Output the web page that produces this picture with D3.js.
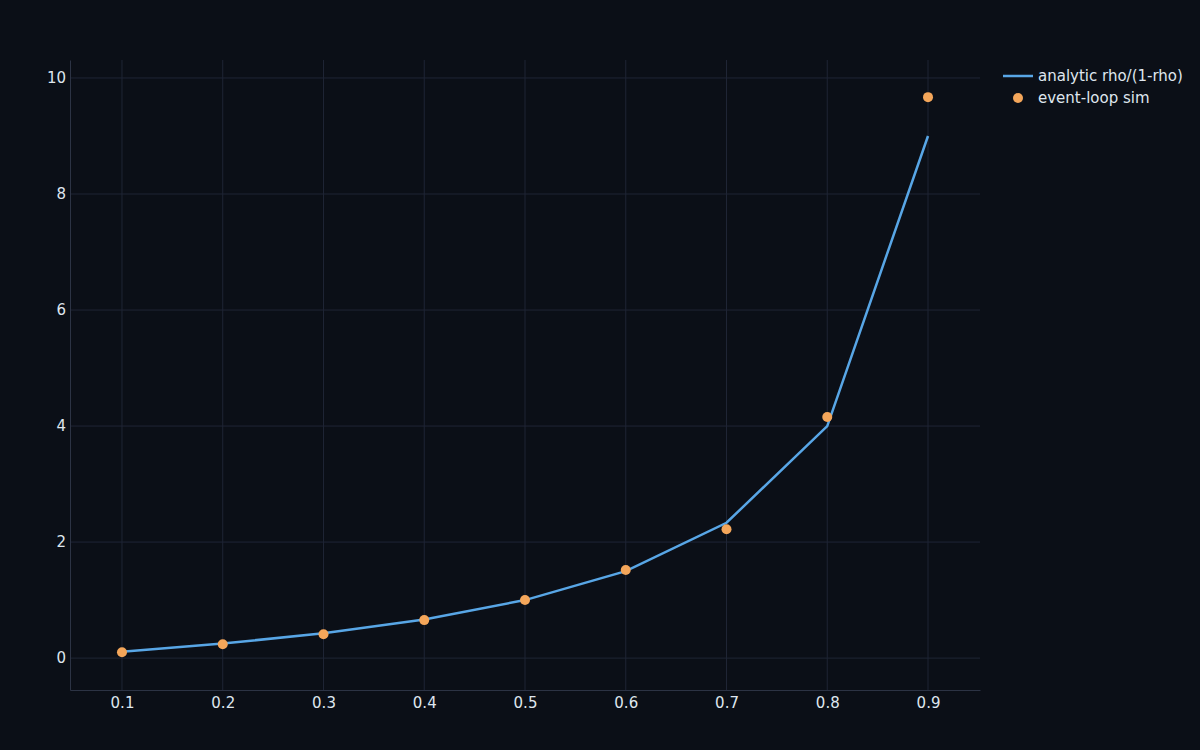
<!DOCTYPE html>
<html>
<head>
<meta charset="utf-8">
<script src="https://cdn.jsdelivr.net/npm/d3@7"></script>
<style>
  html, body { margin: 0; padding: 0; background: #0b0f17; }
  svg { display: block; font-family: "DejaVu Sans", sans-serif; }
  .tick text { fill: #dfe6ee; font-size: 15px; font-family: "DejaVu Sans", sans-serif; }
</style>
</head>
<body>
<svg id="chart"></svg>
<script>
const rho = [0.1, 0.2, 0.3, 0.4, 0.5, 0.6, 0.7, 0.8, 0.9];
const analytic = [0.111, 0.25, 0.429, 0.667, 1.0, 1.5, 2.333, 4.0, 9.0];
const simulated = [0.10, 0.24, 0.41, 0.655, 1.0, 1.52, 2.22, 4.155, 9.67];
const xTicks = [0.1, 0.2, 0.3, 0.4, 0.5, 0.6, 0.7, 0.8, 0.9];
const yTicks = [0, 2, 4, 6, 8, 10];
const seriesNames = ['analytic rho/(1-rho)', 'event-loop sim'];

const width = 1200;
const height = 750;
const margin = { top: 60, right: 220, bottom: 60, left: 70 };
const lineColor = '#58a6e6';
const dotColor = '#f4a65a';
const gridColor = '#1f2535';

const svg = d3.select('#chart')
  .attr('width', width)
  .attr('height', height);

svg.append('rect')
  .attr('width', width)
  .attr('height', height)
  .attr('fill', '#0b0f17');

const x = d3.scaleLinear()
  .domain([0.0484, 0.9516])
  .range([margin.left, width - margin.right]);
const y = d3.scaleLinear()
  .domain([-0.55, 10.31])
  .range([height - margin.bottom, margin.top]);

// grid
svg.append('g')
  .selectAll('line')
  .data(xTicks)
  .enter().append('line')
    .attr('x1', d => x(d)).attr('x2', d => x(d))
    .attr('y1', margin.top).attr('y2', height - margin.bottom)
    .attr('stroke', gridColor);
svg.append('g')
  .selectAll('line')
  .data(yTicks)
  .enter().append('line')
    .attr('x1', margin.left).attr('x2', width - margin.right)
    .attr('y1', d => y(d)).attr('y2', d => y(d))
    .attr('stroke', gridColor);

// axes
const xAxis = d3.axisBottom(x)
  .tickValues(xTicks)
  .tickSize(0)
  .tickPadding(7)
  .tickFormat(d3.format('.1f'));
const yAxis = d3.axisLeft(y)
  .tickValues(yTicks)
  .tickSize(0)
  .tickPadding(4);

const gx = svg.append('g')
  .attr('transform', `translate(0, ${height - margin.bottom})`)
  .call(xAxis);
gx.select('.domain').attr('stroke', '#2c3344');

const gy = svg.append('g')
  .attr('transform', `translate(${margin.left}, 0)`)
  .call(yAxis);
gy.select('.domain').attr('stroke', '#2c3344');
gy.selectAll('.tick text').attr('dy', '0.32em');

// analytic line
const line = d3.line()
  .x((d, i) => x(rho[i]))
  .y(d => y(d));
svg.append('path')
  .datum(analytic)
  .attr('d', line)
  .attr('fill', 'none')
  .attr('stroke', lineColor)
  .attr('stroke-width', 2.5);

// simulated points
svg.append('g')
  .selectAll('circle')
  .data(simulated)
  .enter().append('circle')
    .attr('cx', (d, i) => x(rho[i]))
    .attr('cy', d => y(d))
    .attr('r', 5)
    .attr('fill', dotColor);

// legend
const legend = svg.append('g')
  .attr('transform', 'translate(1003, 76)');
legend.append('line')
  .attr('x1', 0).attr('x2', 30)
  .attr('y1', 0).attr('y2', 0)
  .attr('stroke', lineColor)
  .attr('stroke-width', 2.5);
legend.append('circle')
  .attr('cx', 15).attr('cy', 22)
  .attr('r', 5)
  .attr('fill', dotColor);
legend.selectAll('text')
  .data(seriesNames)
  .enter().append('text')
    .attr('x', 35)
    .attr('y', (d, i) => i * 22)
    .attr('dy', '0.35em')
    .attr('fill', '#dfe6ee')
    .attr('font-size', 15)
    .text(d => d);
</script>
</body>
</html>
